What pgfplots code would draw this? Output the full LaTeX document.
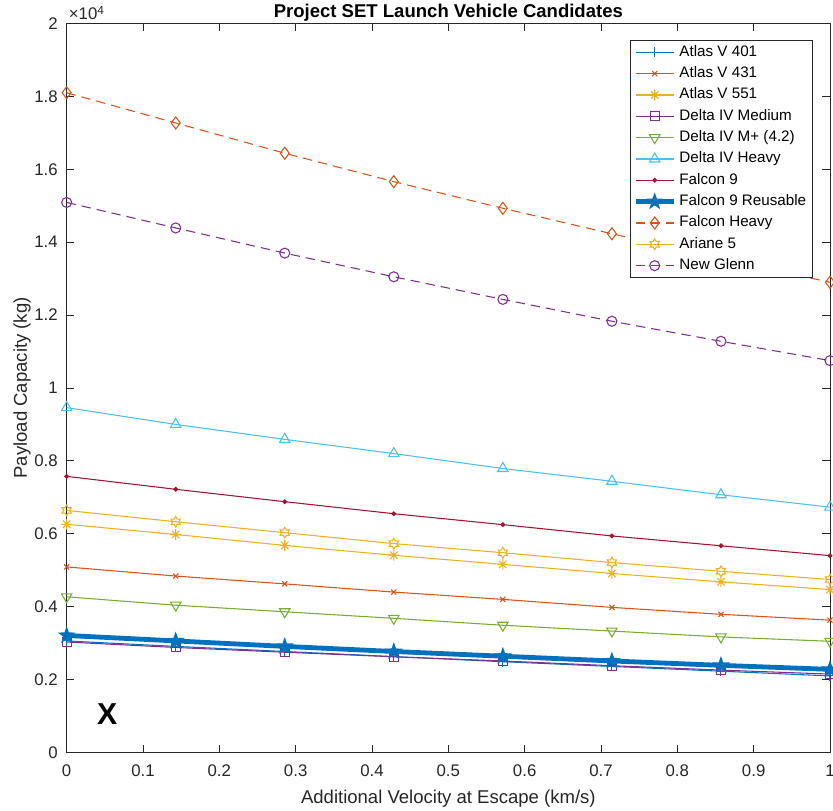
\documentclass[border=0pt]{standalone}
\usepackage{fontspec}
\setmainfont{Liberation Sans}
\usepackage{pgfplots}
\pgfplotsset{compat=1.18}
\usetikzlibrary{plotmarks}

\definecolor{c1}{rgb}{0,0.447,0.741}
\definecolor{c2}{rgb}{0.85,0.325,0.098}
\definecolor{c3}{rgb}{0.929,0.694,0.125}
\definecolor{c4}{rgb}{0.494,0.184,0.556}
\definecolor{c5}{rgb}{0.466,0.674,0.188}
\definecolor{c6}{rgb}{0.301,0.745,0.933}
\definecolor{c7}{rgb}{0.635,0.078,0.184}
\definecolor{axgray}{rgb}{0.15,0.15,0.15}

% MATLAB-like asterisk (+ and x)
\pgfdeclareplotmark{mstar}{%
  \pgfpathmoveto{\pgfqpoint{-\pgfplotmarksize}{0pt}}\pgfpathlineto{\pgfqpoint{\pgfplotmarksize}{0pt}}%
  \pgfpathmoveto{\pgfqpoint{0pt}{-\pgfplotmarksize}}\pgfpathlineto{\pgfqpoint{0pt}{\pgfplotmarksize}}%
  \pgfpathmoveto{\pgfpointscale{0.7}{\pgfqpoint{-\pgfplotmarksize}{-\pgfplotmarksize}}}%
  \pgfpathlineto{\pgfpointscale{0.7}{\pgfqpoint{\pgfplotmarksize}{\pgfplotmarksize}}}%
  \pgfpathmoveto{\pgfpointscale{0.7}{\pgfqpoint{-\pgfplotmarksize}{\pgfplotmarksize}}}%
  \pgfpathlineto{\pgfpointscale{0.7}{\pgfqpoint{\pgfplotmarksize}{-\pgfplotmarksize}}}%
  \pgfusepathqstroke}
% filled five-pointed star
\pgfdeclareplotmark{fstar}{%
  \pgfpathmoveto{\pgfpointpolar{90}{\pgfplotmarksize}}%
  \pgfpathlineto{\pgfpointscale{0.4}{\pgfpointpolar{126}{\pgfplotmarksize}}}%
  \pgfpathlineto{\pgfpointpolar{162}{\pgfplotmarksize}}%
  \pgfpathlineto{\pgfpointscale{0.4}{\pgfpointpolar{198}{\pgfplotmarksize}}}%
  \pgfpathlineto{\pgfpointpolar{234}{\pgfplotmarksize}}%
  \pgfpathlineto{\pgfpointscale{0.4}{\pgfpointpolar{270}{\pgfplotmarksize}}}%
  \pgfpathlineto{\pgfpointpolar{306}{\pgfplotmarksize}}%
  \pgfpathlineto{\pgfpointscale{0.4}{\pgfpointpolar{342}{\pgfplotmarksize}}}%
  \pgfpathlineto{\pgfpointpolar{18}{\pgfplotmarksize}}%
  \pgfpathlineto{\pgfpointscale{0.4}{\pgfpointpolar{54}{\pgfplotmarksize}}}%
  \pgfpathclose\pgfusepathqfillstroke}
% hexagram outline
\pgfdeclareplotmark{hexa}{%
  \pgfpathmoveto{\pgfpointpolar{90}{\pgfplotmarksize}}%
  \pgfpathlineto{\pgfpointscale{0.58}{\pgfpointpolar{120}{\pgfplotmarksize}}}%
  \pgfpathlineto{\pgfpointpolar{150}{\pgfplotmarksize}}%
  \pgfpathlineto{\pgfpointscale{0.58}{\pgfpointpolar{180}{\pgfplotmarksize}}}%
  \pgfpathlineto{\pgfpointpolar{210}{\pgfplotmarksize}}%
  \pgfpathlineto{\pgfpointscale{0.58}{\pgfpointpolar{240}{\pgfplotmarksize}}}%
  \pgfpathlineto{\pgfpointpolar{270}{\pgfplotmarksize}}%
  \pgfpathlineto{\pgfpointscale{0.58}{\pgfpointpolar{300}{\pgfplotmarksize}}}%
  \pgfpathlineto{\pgfpointpolar{330}{\pgfplotmarksize}}%
  \pgfpathlineto{\pgfpointscale{0.58}{\pgfpointpolar{0}{\pgfplotmarksize}}}%
  \pgfpathlineto{\pgfpointpolar{30}{\pgfplotmarksize}}%
  \pgfpathlineto{\pgfpointscale{0.58}{\pgfpointpolar{60}{\pgfplotmarksize}}}%
  \pgfpathclose\pgfusepathqstroke}

\begin{document}
\begin{tikzpicture}
\begin{axis}[
  name=ax,
  scale only axis, width=572.5pt, height=546.75pt,
  xmin=0, xmax=1, ymin=0, ymax=20000,
  xtick={0,0.1,0.2,0.3,0.4,0.5,0.6,0.7,0.8,0.9,1},
  xticklabels={0,0.1,0.2,0.3,0.4,0.5,0.6,0.7,0.8,0.9,1},
  ytick={0,2000,4000,6000,8000,10000,12000,14000,16000,18000,20000},
  yticklabels={0,0.2,0.4,0.6,0.8,1,1.2,1.4,1.6,1.8,2},
  scaled y ticks=false, scaled x ticks=false,
  /pgf/number format/assume math mode=true,
  tick align=inside, major tick length=5.7pt,
  axis line style={draw=axgray, line width=0.6pt},
  every tick/.style={axgray, line width=0.6pt},
  tick label style={font=\fontsize{12.6}{14}\selectfont, text=axgray},
  xticklabel style={anchor=base, yshift=-18.2pt},
  yticklabel style={anchor=east, inner sep=0pt, xshift=-6.5pt},
  xlabel={Additional Velocity at Escape (km/s)},
  ylabel={Payload Capacity (kg)},
  every axis x label/.style={at={([yshift=-38.6pt]rel axis cs:0.5,0)}, anchor=base, font=\fontsize{13.9}{16}\selectfont, text=axgray},
  every axis y label/.style={at={([xshift=-29.8pt]rel axis cs:0,0.5)}, anchor=base, rotate=90, font=\fontsize{13.9}{16}\selectfont, text=axgray},
  title={Project SET Launch Vehicle Candidates},
  every axis title/.style={at={([yshift=4.5pt]rel axis cs:0.5,1)}, anchor=base, font=\bfseries\fontsize{13.9}{16}\selectfont, text=black},
  clip mode=individual,
  legend cell align=left,
  legend style={at={(1,1)}, anchor=north east, xshift=-13.1pt, yshift=-12.4pt,
    draw=axgray, line width=0.5pt, fill=white, font=\fontsize{11.4}{13}\selectfont,
    inner xsep=2pt, inner ysep=1pt, row sep=0pt,
    nodes={inner sep=2.5pt, text height=8.5pt, text depth=2.5pt}},
  legend image code/.code={\draw[mark repeat=2,mark phase=2,#1] plot coordinates {(0pt,0pt) (14.25pt,0pt) (28.5pt,0pt)};},
]
\addplot[c1, line width=0.8pt, mark=+, mark size=3.75pt] coordinates {
 (0,3060) (0.142857,2910) (0.285714,2770) (0.428571,2630) (0.571429,2490) (0.714286,2360) (0.857143,2230) (1,2100)};
\addlegendentry{Atlas V 401}
\addplot[c2, line width=0.8pt, mark=x, mark size=2.7pt] coordinates {
 (0,5090) (0.142857,4840) (0.285714,4625) (0.428571,4400) (0.571429,4200) (0.714286,3980) (0.857143,3790) (1,3630)};
\addlegendentry{Atlas V 431}
\addplot[c3, line width=0.8pt, mark=mstar, mark size=4pt] coordinates {
 (0,6260) (0.142857,5980) (0.285714,5680) (0.428571,5410) (0.571429,5160) (0.714286,4910) (0.857143,4680) (1,4470)};
\addlegendentry{Atlas V 551}
\addplot[c4, line width=0.8pt, mark=square, mark size=3.3pt] coordinates {
 (0,3030) (0.142857,2880) (0.285714,2750) (0.428571,2625) (0.571429,2510) (0.714286,2380) (0.857143,2260) (1,2150)};
\addlegendentry{Delta IV Medium}
\addplot[c5, line width=0.8pt, mark=triangle, mark size=4.5pt, mark options={rotate=180}] coordinates {
 (0,4270) (0.142857,4040) (0.285714,3860) (0.428571,3680) (0.571429,3490) (0.714286,3330) (0.857143,3170) (1,3050)};
\addlegendentry{Delta IV M+ (4.2)}
\addplot[c6, line width=0.8pt, mark=triangle, mark size=4.5pt] coordinates {
 (0,9460) (0.142857,9000) (0.285714,8590) (0.428571,8200) (0.571429,7790) (0.714286,7440) (0.857143,7070) (1,6730)};
\addlegendentry{Delta IV Heavy}
\addplot[c7, line width=0.8pt, mark=*, mark size=1.4pt] coordinates {
 (0,7575) (0.142857,7220) (0.285714,6880) (0.428571,6550) (0.571429,6250) (0.714286,5940) (0.857143,5670) (1,5400)};
\addlegendentry{Falcon 9}
\addplot[c1, line width=3.6pt, mark=fstar, mark size=5.5pt, mark options={line width=1pt, fill=c1}] coordinates {
 (0,3210) (0.142857,3060) (0.285714,2910) (0.428571,2770) (0.571429,2640) (0.714286,2510) (0.857143,2390) (1,2280)};
\addlegendentry{Falcon 9 Reusable}
\addplot[c2, line width=0.8pt, dash pattern=on 7pt off 4.5pt, mark=diamond, mark size=4.5pt, mark options={solid}] coordinates {
 (0,18100) (0.142857,17270) (0.285714,16440) (0.428571,15660) (0.571429,14930) (0.714286,14230) (0.857143,13550) (1,12900)};
\addlegendentry{Falcon Heavy}
\addplot[c3, line width=0.8pt, mark=hexa, mark size=4pt] coordinates {
 (0,6640) (0.142857,6330) (0.285714,6030) (0.428571,5730) (0.571429,5480) (0.714286,5210) (0.857143,4970) (1,4745)};
\addlegendentry{Ariane 5}
\addplot[c4, line width=0.8pt, dash pattern=on 7pt off 4.5pt, mark=o, mark size=3.75pt, mark options={solid}] coordinates {
 (0,15090) (0.142857,14390) (0.285714,13700) (0.428571,13050) (0.571429,12430) (0.714286,11830) (0.857143,11280) (1,10750)};
\addlegendentry{New Glenn}
\node[anchor=base west, inner sep=0pt, font=\fontsize{12.6}{14}\selectfont, text=axgray] at ([xshift=1.5pt,yshift=2.6pt]rel axis cs:0,1) {×10\textsuperscript{4}};
\node[font=\bfseries\fontsize{22.7}{24}\selectfont, inner sep=0pt] at (axis cs:0.053,1055) {X};
\end{axis}
\pgfresetboundingbox
\path[use as bounding box] ([xshift=-50pt,yshift=-43.9pt]ax.south west) rectangle ([xshift=2.25pt,yshift=17.6pt]ax.north east);
\end{tikzpicture}
\end{document}
